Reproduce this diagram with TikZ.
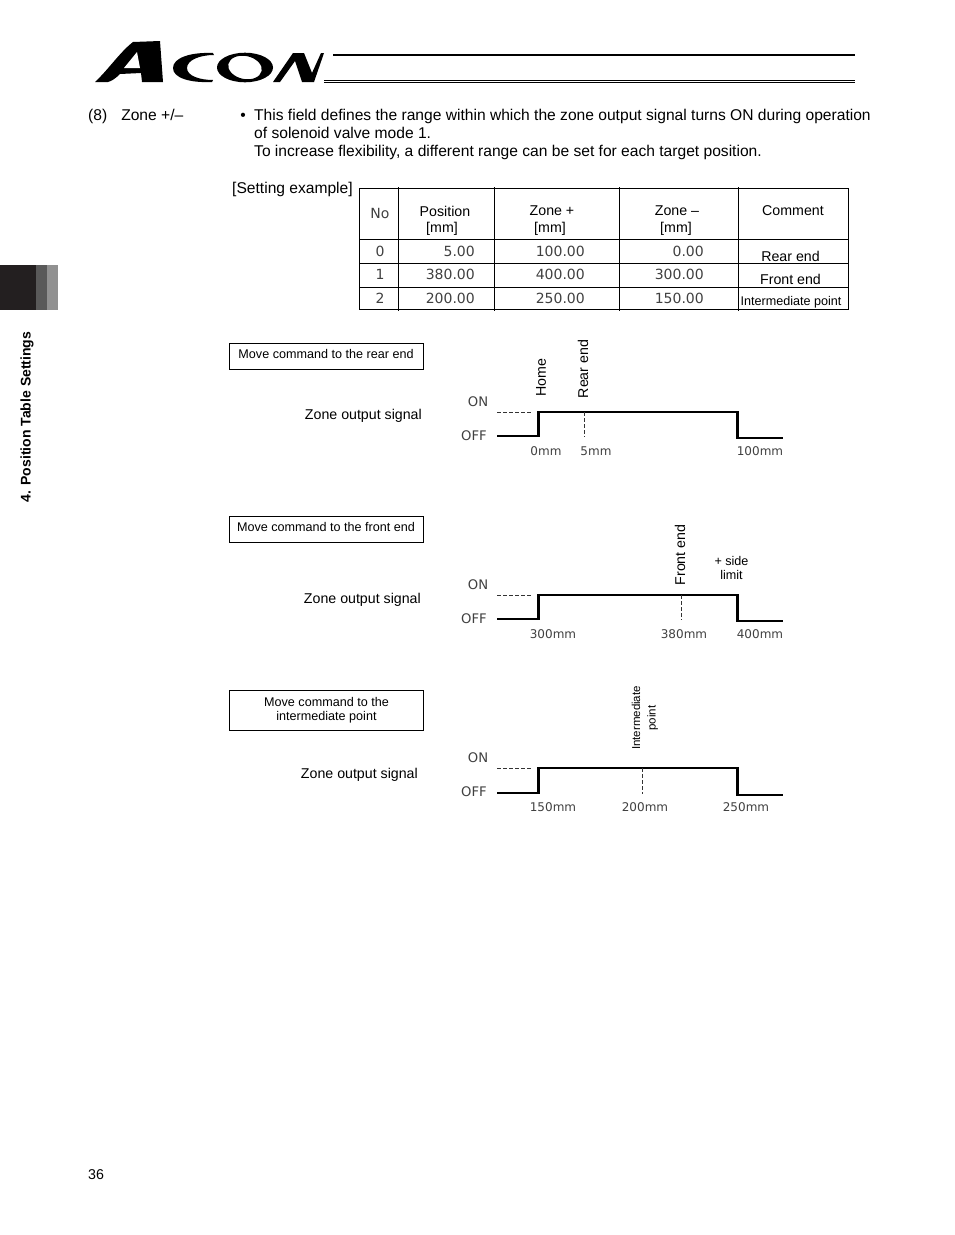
\documentclass[tikz,border=0pt]{standalone}
\usepackage{fontspec}
\usepackage{xcolor}
\setmainfont{Liberation Sans}
\newfontfamily\pixfont{DejaVu Sans}
\newcommand{\bodyfont}{\fontsize{15.6}{18}\selectfont}
\newcommand{\sigfont}{\fontsize{14.2}{16.5}\selectfont}
\newcommand{\boxfont}{\fontsize{12.6}{14}\selectfont}
\usetikzlibrary{positioning}

\begin{document}
\begin{tikzpicture}[x=1pt, y=-1pt]
    \tikzstyle{txt} = [inner sep=0pt, font=\bodyfont, align=left]
    \tikzstyle{cell} = [inner sep=0pt, font=\sigfont, align=center]
    \tikzstyle{digits} = [inner sep=0pt, text=black!75, font=\pixfont\fontsize{14}{16}\selectfont]
    \tikzstyle{level} = [inner sep=0pt, text=black!75, font=\pixfont\fontsize{13.2}{15}\selectfont]
    \tikzstyle{dist} = [inner sep=0pt, text=black!75, font=\pixfont\fontsize{12}{14}\selectfont]
    \tikzstyle{cmdbox} = [rectangle, draw=black, line width=1pt, minimum width=194pt, inner sep=0pt, align=center, font=\boxfont]
    \tikzstyle{sig} = [inner sep=0pt, anchor=east, font=\sigfont]
    \tikzstyle{vlabel} = [inner sep=0pt, rotate=90, align=center, font=\sigfont]
    \tikzstyle{wave} = [line width=2.2pt, line join=miter]
    \tikzstyle{guide} = [line width=0.6pt, black!80, dash pattern=on 4pt off 2pt]

    \useasboundingbox (0,0) rectangle (954,1235);

    % logo
    \fill (95,82) .. controls (108,70) and (120,52) .. (133,42) -- (160,41) -- (163,82) -- (142,82) -- (141,73) -- (120,74) .. controls (116,78) and (112,81) .. (108,82) -- cycle;
    \fill[white] (137,52) -- (140,68) -- (124,68) -- cycle;
    \fill (213,53) .. controls (190,52) and (173,58) .. (173,68) .. controls (173,78) and (190,83) .. (212,82) -- (213,80) .. controls (200,80) and (187,76) .. (187,68) .. controls (187,60) and (200,55) .. (214,55) -- cycle;
    \fill[even odd rule] (245,67.5) ellipse [x radius=28pt, y radius=14.8pt] (245,67.5) ellipse [x radius=17pt, y radius=11.5pt, rotate=-12];
    \fill (273,82) -- (293,53) -- (304,53) -- (312,73) -- (321,53) -- (324,53) -- (314,82) -- (302,82) -- (295,61) -- (280,82) -- cycle;
    \draw[line width=2.4pt] (333,55) -- (855,55);
    \draw[line width=1pt] (324,80) -- (855,80);
    \draw[line width=1pt] (324,82.5) -- (855,82.5);

    % side tab
    \fill[fill={rgb,255:red,35;green,31;blue,32}] (0,265) rectangle (36,310);
    \fill[fill=black!65] (36,265) rectangle (47,310);
    \fill[fill=black!43] (47,265) rectangle (58,310);
    \node (tabtitle) [inner sep=0pt, rotate=90, font=\bfseries\fontsize{14}{16}\selectfont] at (27,417) {4. Position Table Settings};

    % heading text
    \node (itemno) [txt, anchor=west] at (88,116) {(8)\hspace{14pt}Zone +/--};
    \node (bullet) [txt, anchor=center] at (243,117) {\textbullet};
    \node (desc) [txt, anchor=north west] at (254,108.5) {This field defines the range within which the zone output signal turns ON during operation\\of solenoid valve mode 1.\\To increase flexibility, a different range can be set for each target position.};
    \node (setex) [txt, anchor=west] at (232,189) {[Setting example]};

    % table
    \draw[line width=0.8pt] (359.5,188.5) rectangle (848.5,309.5);
    \draw[line width=0.6pt] (398,187) -- (398,311);
    \draw[line width=0.6pt] (494.5,187) -- (494.5,311);
    \draw[line width=0.6pt] (619,187) -- (619,311);
    \draw[line width=0.6pt] (738.5,187) -- (738.5,311);
    \draw[line width=0.6pt] (359.5,239.5) -- (848.5,239.5);
    \draw[line width=0.8pt] (359.5,263) -- (848.5,263);
    \draw[line width=0.8pt] (359.5,287) -- (848.5,287);

    \node (hno) [digits] at (380,213) {No};
    \node (hpos) [cell] at (445,211) {Position};
    \node (hposu) [cell] at (442,229) {[mm]};
    \node (hzp) [cell] at (552,211) {Zone +};
    \node (hzpu) [cell] at (550,229) {[mm]};
    \node (hzm) [cell] at (677,211) {Zone --};
    \node (hzmu) [cell] at (676,229) {[mm]};
    \node (hcom) [cell] at (793,211) {Comment};

    \node (no0) [digits] at (380,251) {0};
    \node (pos0) [digits, anchor=east] at (475,251) {5.00};
    \node (zp0) [digits, anchor=east] at (585,251) {100.00};
    \node (zm0) [digits, anchor=east] at (704,251) {0.00};
    \node (com0) [cell] at (790.5,256) {Rear end};
    \node (no1) [digits] at (380,274) {1};
    \node (pos1) [digits, anchor=east] at (475,274) {380.00};
    \node (zp1) [digits, anchor=east] at (585,274) {400.00};
    \node (zm1) [digits, anchor=east] at (704,274) {300.00};
    \node (com1) [cell] at (790.5,279) {Front end};
    \node (no2) [digits] at (380,298) {2};
    \node (pos2) [digits, anchor=east] at (475,298) {200.00};
    \node (zp2) [digits, anchor=east] at (585,298) {250.00};
    \node (zm2) [digits, anchor=east] at (704,298) {150.00};
    \node (com2) [cell, font=\boxfont] at (791,302) {Intermediate point};

    % rear end
    \node (cmda) [cmdbox, minimum height=26pt] at (326.5,356.5) {};
    \node (cmdatxt) [inner sep=0pt, font=\boxfont] at (326,354) {Move command to the rear end};
    \node (siga) [sig] at (422,416) {Zone output signal};
    \node (ona) [level] at (478,402) {ON};
    \node (offa) [level] at (474,436) {OFF};
    \coordinate (a0) at (497,436);
    \coordinate (a1) at (538.5,436);
    \coordinate (a2) at (538.5,412);
    \coordinate (a3) at (737.5,412);
    \coordinate (a4) at (737.5,438);
    \coordinate (a5) at (783,438);
    \coordinate (a6) at (497,412);
    \coordinate (a7) at (532,412);
    \coordinate (a8) at (584,412);
    \coordinate (a9) at (584,437);
    \draw[wave] (a0) -- (a1) -- (a2) -- (a3) -- (a4) -- (a5);
    \draw[guide] (a6) -- (a7);
    \draw[guide] (a8) -- (a9);
    \node (homea) [vlabel] at (541,378) {Home};
    \node (reara) [vlabel] at (583,369) {Rear end};
    \node (da0) [dist] at (546,451) {0mm};
    \node (da1) [dist] at (596,451) {5mm};
    \node (da2) [dist] at (760,451) {100mm};

    % front end
    \node (cmdb) [cmdbox, minimum height=26pt] at (326.5,529.5) {};
    \node (cmdbtxt) [inner sep=0pt, font=\boxfont] at (326,527) {Move command to the front end};
    \node (sigb) [sig] at (421,600) {Zone output signal};
    \node (onb) [level] at (478,585) {ON};
    \node (offb) [level] at (474,619) {OFF};
    \coordinate (b0) at (497,619);
    \coordinate (b1) at (538.5,619);
    \coordinate (b2) at (538.5,595);
    \coordinate (b3) at (737.5,595);
    \coordinate (b4) at (737.5,621);
    \coordinate (b5) at (783,621);
    \coordinate (b6) at (497,595);
    \coordinate (b7) at (532,595);
    \coordinate (b8) at (681,595);
    \coordinate (b9) at (681,620);
    \draw[wave] (b0) -- (b1) -- (b2) -- (b3) -- (b4) -- (b5);
    \draw[guide] (b6) -- (b7);
    \draw[guide] (b8) -- (b9);
    \node (frontb) [vlabel] at (680,555) {Front end};
    \node (limitb) [cell, font=\boxfont] at (731.5,568) {+ side\\limit};
    \node (db0) [dist] at (553,634) {300mm};
    \node (db1) [dist] at (684,634) {380mm};
    \node (db2) [dist] at (760,634) {400mm};

    % intermediate point
    \node (cmdc) [cmdbox, minimum height=40pt] at (326.5,710.5) {Move command to the\\intermediate point};
    \node (sigc) [sig] at (418,775) {Zone output signal};
    \node (onc) [level] at (478,758) {ON};
    \node (offc) [level] at (474,792) {OFF};
    \coordinate (c0) at (497,793);
    \coordinate (c1) at (538.5,793);
    \coordinate (c2) at (538.5,768);
    \coordinate (c3) at (737.5,768);
    \coordinate (c4) at (737.5,795);
    \coordinate (c5) at (783,795);
    \coordinate (c6) at (497,768);
    \coordinate (c7) at (532,768);
    \coordinate (c8) at (642,768);
    \coordinate (c9) at (642,794);
    \draw[wave] (c0) -- (c1) -- (c2) -- (c3) -- (c4) -- (c5);
    \draw[guide] (c6) -- (c7);
    \draw[guide] (c8) -- (c9);
    \node (intc) [vlabel, font=\fontsize{11.5}{15.5}\selectfont] at (645,718) {Intermediate\\point};
    \node (dc0) [dist] at (553,807) {150mm};
    \node (dc1) [dist] at (645,807) {200mm};
    \node (dc2) [dist] at (746,807) {250mm};

    \node (pageno) [txt, anchor=west, font=\sigfont] at (88,1175) {36};
\end{tikzpicture}
\end{document}
